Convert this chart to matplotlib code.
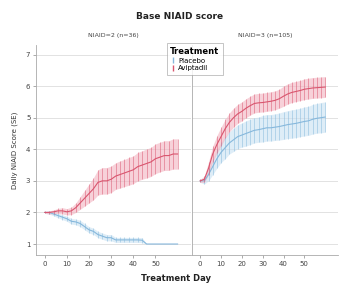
import matplotlib.pyplot as plt
from matplotlib.lines import Line2D
import numpy as np

days = [0, 2, 4, 6, 8, 10, 12, 14, 16, 18, 20, 22, 24, 26, 28, 30,
        32, 34, 36, 38, 40, 42, 44, 46, 48, 50, 52, 54, 56, 58, 60]

# NIAID = 2 panel
n2_placebo = [2.0, 2.0, 1.95, 1.9, 1.85, 1.8, 1.72, 1.7, 1.65, 1.55, 1.45, 1.4, 1.3, 1.25, 1.2, 1.2,
              1.13, 1.13, 1.13, 1.13, 1.13, 1.13, 1.12, 1.0, 1.0, 1.0, 1.0, 1.0, 1.0, 1.0, 1.0]
n2_placebo_se = [0.03, 0.05, 0.06, 0.07, 0.08, 0.08, 0.09, 0.09, 0.1, 0.1, 0.1, 0.1, 0.1, 0.1, 0.1, 0.1,
                 0.08, 0.08, 0.08, 0.08, 0.08, 0.08, 0.08, 0.0, 0.0, 0.0, 0.0, 0.0, 0.0, 0.0, 0.0]
n2_avip = [2.0, 2.0, 2.02, 2.05, 2.05, 2.02, 2.05, 2.15, 2.3, 2.45, 2.6, 2.75, 2.95, 3.0, 3.0, 3.05,
           3.15, 3.2, 3.25, 3.3, 3.35, 3.45, 3.5, 3.55, 3.6, 3.7, 3.75, 3.8, 3.8, 3.85, 3.85]
n2_avip_se = [0.03, 0.05, 0.06, 0.08, 0.1, 0.1, 0.12, 0.15, 0.2, 0.25, 0.3, 0.35, 0.4, 0.42, 0.42, 0.42,
              0.42, 0.43, 0.43, 0.44, 0.44, 0.45, 0.45, 0.46, 0.46, 0.47, 0.47, 0.47, 0.47, 0.48, 0.48]

# NIAID = 3 panel
n3_placebo = [3.0, 3.0, 3.2, 3.45, 3.7, 3.9, 4.05, 4.2, 4.3, 4.4, 4.45, 4.5, 4.55, 4.6, 4.62, 4.65,
              4.68, 4.68, 4.7, 4.72, 4.75, 4.78, 4.8, 4.82, 4.85, 4.88, 4.9, 4.95, 4.98, 5.0, 5.02]
n3_placebo_se = [0.05, 0.1, 0.2, 0.25, 0.3, 0.32, 0.35, 0.35, 0.37, 0.38, 0.38, 0.4, 0.4, 0.4, 0.4, 0.42,
                 0.42, 0.42, 0.42, 0.43, 0.44, 0.44, 0.45, 0.45, 0.45, 0.46, 0.46, 0.47, 0.47, 0.48, 0.48]
n3_avip = [3.0, 3.05, 3.4, 3.85, 4.15, 4.4, 4.65, 4.85, 5.0, 5.12, 5.2, 5.3, 5.38, 5.45, 5.47, 5.48,
           5.5, 5.52, 5.55, 5.6, 5.68, 5.75, 5.8, 5.83, 5.86, 5.9, 5.92, 5.94, 5.95, 5.96, 5.97]
n3_avip_se = [0.05, 0.1, 0.2, 0.25, 0.28, 0.3, 0.3, 0.3, 0.3, 0.3, 0.3, 0.3, 0.3, 0.3, 0.3, 0.3,
              0.3, 0.3, 0.3, 0.3, 0.32, 0.32, 0.32, 0.32, 0.32, 0.33, 0.33, 0.33, 0.33, 0.33, 0.33]

red = '#d9566f'
red_band = '#f3b3c0'
blue = '#86b8dc'
blue_band = '#c9e1f2'

fig = plt.figure(figsize=(3.39, 2.85), dpi=100)
ax1 = fig.add_axes([0.106, 0.105, 0.457, 0.737])
ax2 = fig.add_axes([0.566, 0.105, 0.43, 0.737])


def draw(ax, y, se, col, band):
    y = np.array(y)
    se = np.array(se)
    ax.fill_between(days, y - se, y + se, color=band, alpha=0.6, lw=0)
    ax.vlines(days, y - se, y + se, color=col, lw=0.5, alpha=0.7)
    ax.plot(days, y, color=col, lw=0.8)


draw(ax1, n2_placebo, n2_placebo_se, blue, blue_band)
draw(ax1, n2_avip, n2_avip_se, red, red_band)
draw(ax2, n3_placebo, n3_placebo_se, blue, blue_band)
draw(ax2, n3_avip, n3_avip_se, red, red_band)

for ax in (ax1, ax2):
    ax.set_xlim(-4, 66)
    ax.set_ylim(0.65, 7.3)
    ax.set_yticks([1, 2, 3, 4, 5, 6, 7])
    ax.set_xticks([0, 10, 20, 30, 40, 50])
    ax.grid(axis='y', color='#dddddd', lw=0.6)
    ax.set_axisbelow(True)
    for s in ['top', 'right']:
        ax.spines[s].set_visible(False)
    for s in ['left', 'bottom']:
        ax.spines[s].set_color('#aaaaaa')
        ax.spines[s].set_linewidth(0.6)
    ax.tick_params(labelsize=5, length=2, width=0.5, color='#888888', labelcolor='#444444', pad=2)

ax2.tick_params(axis='y', left=False, labelleft=False)

ax1.set_title('NIAID=2 (n=36)', fontsize=4.5, color='#444444', pad=6)
ax2.set_title('NIAID=3 (n=105)', fontsize=4.5, color='#444444', pad=6)
ax1.set_ylabel('Daily NIAID Score (SE)', fontsize=5, color='#333333', labelpad=6)
fig.text(0.53, 0.935, 'Base NIAID score', ha='center', fontsize=6.5, fontweight='bold', color='#222222')
fig.text(0.52, 0.015, 'Treatment Day', ha='center', fontsize=6, fontweight='bold', color='#222222')

handles = [Line2D([], [], color=blue, marker='|', ls='none', markersize=4.5),
           Line2D([], [], color=red, marker='|', ls='none', markersize=4.5)]
leg = fig.legend(handles, ['Placebo', 'Aviptadil'], title='Treatment',
                 loc='upper center', bbox_to_anchor=(0.575, 0.86), fontsize=5,
                 title_fontproperties={'weight': 'bold', 'size': 6},
                 frameon=True, fancybox=False, edgecolor='#999999',
                 handlelength=0.8, handletextpad=0.3, borderpad=0.5, labelspacing=0.25)
leg.get_frame().set_linewidth(0.5)
leg._legend_box.align = 'left'

fig.savefig('out.png', dpi=100)
